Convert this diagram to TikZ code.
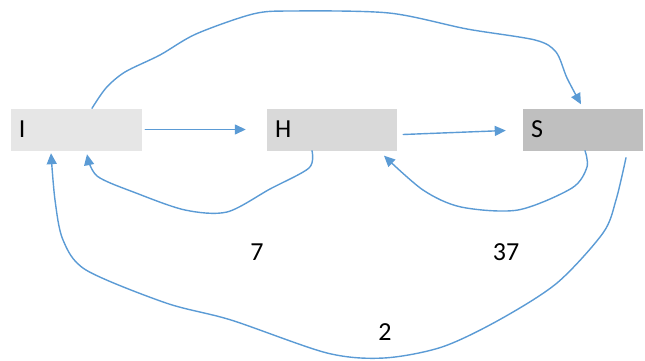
\documentclass[tikz,border=0pt]{standalone}
\usepackage{fontspec}
\setmainfont{Carlito}
\usetikzlibrary{arrows.meta}
\definecolor{lnblue}{HTML}{5B9BD5}
\definecolor{boxI}{HTML}{E6E6E6}
\definecolor{boxH}{HTML}{D9D9D9}
\definecolor{boxS}{HTML}{BFBFBF}
\begin{document}
\begin{tikzpicture}[x=1pt,y=-1pt,
  statebox/.style={minimum height=42pt, inner xsep=8pt, inner ysep=0pt, font=\fontsize{26}{30}\selectfont, align=left},
  conn/.style={draw=lnblue, line width=1.4pt, -{Triangle[length=11pt,width=10pt]}, line join=round, line cap=round},
  numlabel/.style={font=\fontsize{26}{30}\selectfont, inner sep=0pt}]
\useasboundingbox (0,0) rectangle (645,361);
\node[statebox, fill=boxI, text width=115pt] (I) at (76.5,129.5) {I};
\node[statebox, fill=boxH, text width=114pt] (H) at (332,129.5) {H};
\node[statebox, fill=boxS, text width=104pt] (S) at (583,129.5) {S};
% straight arrows
\draw[conn, shorten <=3pt, shorten >=21pt] (I.east) -- (H.west);
\draw[conn] ([xshift=6pt,yshift=-5pt]H.east) -- ([xshift=-17pt,yshift=-1pt]S.west);
% top arc I -> S
\draw[conn] plot[smooth, tension=0.5] coordinates {([xshift=15.5pt]I.north) (106,88) (125,72) (160,55) (196,34) (253,14) (292,11) (389,13) (467,29) (535,40) (556,52) (567,78) ([xshift=-2pt,yshift=4pt]S.north)};
% H -> I loop
\draw[conn] plot[smooth, tension=0.5] coordinates {([xshift=-20pt]H.south) (309,168) (270,189) (227,212) (185,210) (136,193) (97,176) ([xshift=10.5pt,yshift=-3.5pt]I.south)};
% S -> H loop
\draw[conn] plot[smooth, tension=0.5] coordinates {([xshift=2pt]S.south) (587,167) (572,188) (518,210) (461,207) (423,190) ([xshift=52pt,yshift=-5pt]H.south)};
% S -> I big loop
\draw[conn] plot[smooth, tension=0.5] coordinates {([xshift=43pt,yshift=-7pt]S.south) (616,200) (603,233) (557,283) (499,320) (442,347) (384,358) (327,353) (231,320) (166,303) (86,270) (63,240) (55,200) ([xshift=-25.5pt,yshift=-2.5pt]I.south)};
% labels
\node[numlabel] (l7) at (257,252) {7};
\node[numlabel] (l37) at (506,252) {37};
\node[numlabel] (l2) at (385,332) {2};
\end{tikzpicture}
\end{document}
